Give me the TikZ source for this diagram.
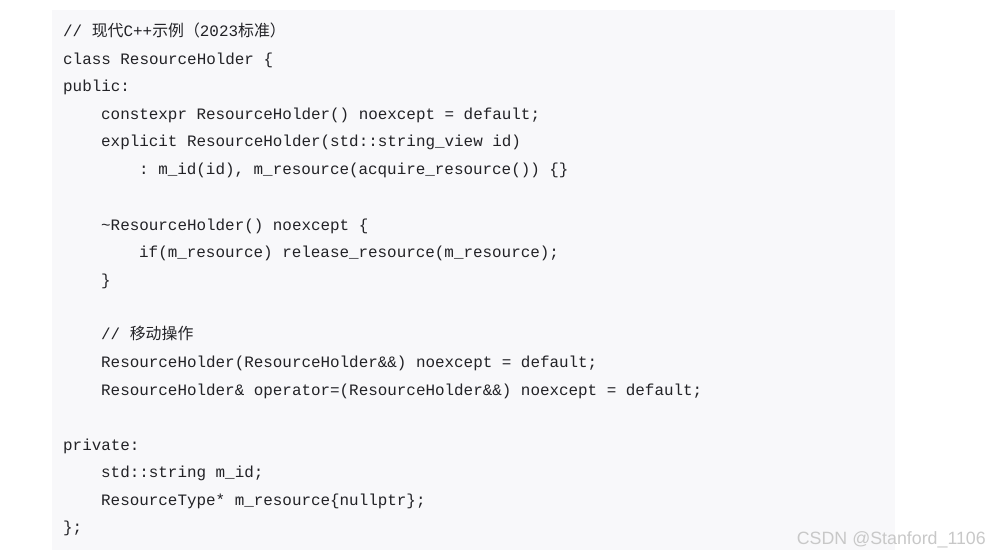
\documentclass[tikz,border=0pt]{standalone}
\usepackage{fontspec}
\setmonofont{Liberation Mono}
\setsansfont{Liberation Sans}
\newfontfamily\cjk{Noto Sans CJK SC}
\definecolor{codebg}{HTML}{F8F8FA}
\definecolor{codefg}{HTML}{222226}
\definecolor{markgray}{HTML}{C8C8C8}
\tikzset{
  code/.style={anchor=base west,inner sep=0pt,text=codefg,
    font=\ttfamily\fontsize{15.9}{16}\selectfont},
}
\begin{document}
\begin{tikzpicture}[x=1pt,y=-1pt]
\useasboundingbox (0,0) rectangle (990,556);
\fill[codebg] (52,10) rectangle (895,550);
% code lines
\node[code] (l1) at (63,37) {// {\cjk 现代}C++{\cjk 示例（}2023{\cjk 标准）}};
\node[code] (l2) at (63,65) {class ResourceHolder \{};
\node[code] (l3) at (63,92) {public:};
\node[code] (l4) at (101,120) {constexpr ResourceHolder() noexcept = default;};
\node[code] (l5) at (101,147) {explicit ResourceHolder(std::string\_view id)};
\node[code] (l6) at (139,175) {: m\_id(id), m\_resource(acquire\_resource()) \{\}};
\node[code] (l8) at (101,230) {\textasciitilde ResourceHolder() noexcept \{};
\node[code] (l9) at (139,257) {if(m\_resource) release\_resource(m\_resource);};
\node[code] (l10) at (101,285) {\}};
\node[code] (l12) at (101,339) {// {\cjk 移动操作}};
\node[code] (l13) at (101,367) {ResourceHolder(ResourceHolder\&\&) noexcept = default;};
\node[code] (l14) at (101,395) {ResourceHolder\& operator=(ResourceHolder\&\&) noexcept = default;};
\node[code] (l16) at (63,450) {private:};
\node[code] (l17) at (101,477) {std::string m\_id;};
\node[code] (l18) at (101,505) {ResourceType* m\_resource\{nullptr\};};
\node[code] (l19) at (63,532) {\};};
% watermark
\node[anchor=base east,inner sep=0pt,text=markgray,
  font=\sffamily\fontsize{17.8}{18}\selectfont] (mark) at (986,544) {CSDN @Stanford\_1106};
\end{tikzpicture}
\end{document}
